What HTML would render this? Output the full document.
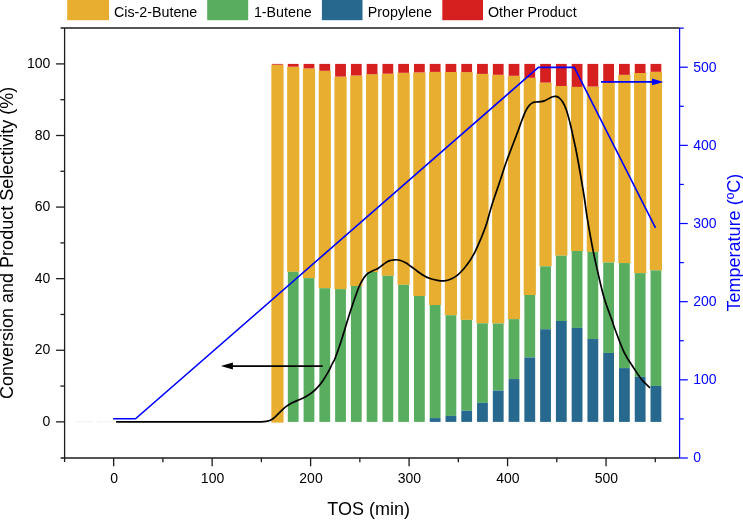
<!DOCTYPE html>
<html><head><meta charset="utf-8"><title>Chart</title>
<style>html,body{margin:0;padding:0;background:#fff}svg{display:block}text{font-family:"Liberation Sans",Arial,sans-serif}</style></head>
<body>
<svg width="743" height="520" viewBox="0 0 743 520">
<rect width="743" height="520" fill="#fff"/>
<rect x="67.2" y="0" width="41.8" height="20.2" fill="#E8AE30"/>
<text x="114.0" y="16.7" font-size="14.25" fill="#000">Cis-2-Butene</text>
<rect x="207.2" y="0" width="41.0" height="20.2" fill="#59AD5F"/>
<text x="253.9" y="16.7" font-size="14.25" fill="#000">1-Butene</text>
<rect x="321.9" y="0" width="40.6" height="20.2" fill="#26688E"/>
<text x="367.8" y="16.7" font-size="14.25" fill="#000">Propylene</text>
<rect x="442.3" y="0" width="40.7" height="20.2" fill="#D61F1F"/>
<text x="488.0" y="16.7" font-size="14.25" fill="#000">Other Product</text>
<rect x="271.35" y="64.70" width="12.2" height="357.90" fill="#E8AE30"/>
<rect x="272.05" y="63.9" width="10.8" height="0.80" fill="#D61F1F"/>
<rect x="287.12" y="66.70" width="12.2" height="205.10" fill="#E8AE30"/>
<rect x="287.82" y="63.9" width="10.8" height="2.80" fill="#D61F1F"/>
<rect x="287.82" y="271.80" width="10.8" height="150.10" fill="#59AD5F"/>
<rect x="302.89" y="68.40" width="12.2" height="209.70" fill="#E8AE30"/>
<rect x="303.59" y="63.9" width="10.8" height="4.50" fill="#D61F1F"/>
<rect x="303.59" y="278.10" width="10.8" height="143.80" fill="#59AD5F"/>
<rect x="318.66" y="70.80" width="12.2" height="217.40" fill="#E8AE30"/>
<rect x="319.36" y="63.9" width="10.8" height="6.90" fill="#D61F1F"/>
<rect x="319.36" y="288.20" width="10.8" height="133.70" fill="#59AD5F"/>
<rect x="334.43" y="76.60" width="12.2" height="212.50" fill="#E8AE30"/>
<rect x="335.13" y="63.9" width="10.8" height="12.70" fill="#D61F1F"/>
<rect x="335.13" y="289.10" width="10.8" height="132.80" fill="#59AD5F"/>
<rect x="350.20" y="75.50" width="12.2" height="210.50" fill="#E8AE30"/>
<rect x="350.90" y="63.9" width="10.8" height="11.60" fill="#D61F1F"/>
<rect x="350.90" y="286.00" width="10.8" height="135.90" fill="#59AD5F"/>
<rect x="365.97" y="74.20" width="12.2" height="197.80" fill="#E8AE30"/>
<rect x="366.67" y="63.9" width="10.8" height="10.30" fill="#D61F1F"/>
<rect x="366.67" y="272.00" width="10.8" height="149.90" fill="#59AD5F"/>
<rect x="381.74" y="73.70" width="12.2" height="202.10" fill="#E8AE30"/>
<rect x="382.44" y="63.9" width="10.8" height="9.80" fill="#D61F1F"/>
<rect x="382.44" y="275.80" width="10.8" height="146.10" fill="#59AD5F"/>
<rect x="397.51" y="72.80" width="12.2" height="212.00" fill="#E8AE30"/>
<rect x="398.21" y="63.9" width="10.8" height="8.90" fill="#D61F1F"/>
<rect x="398.21" y="284.80" width="10.8" height="137.10" fill="#59AD5F"/>
<rect x="413.28" y="72.40" width="12.2" height="223.60" fill="#E8AE30"/>
<rect x="413.98" y="63.9" width="10.8" height="8.50" fill="#D61F1F"/>
<rect x="413.98" y="296.00" width="10.8" height="125.90" fill="#59AD5F"/>
<rect x="429.05" y="71.90" width="12.2" height="233.10" fill="#E8AE30"/>
<rect x="429.75" y="63.9" width="10.8" height="8.00" fill="#D61F1F"/>
<rect x="429.75" y="305.00" width="10.8" height="113.10" fill="#59AD5F"/>
<rect x="429.75" y="418.10" width="10.8" height="3.80" fill="#26688E"/>
<rect x="444.82" y="72.00" width="12.2" height="243.20" fill="#E8AE30"/>
<rect x="445.52" y="63.9" width="10.8" height="8.10" fill="#D61F1F"/>
<rect x="445.52" y="315.20" width="10.8" height="100.70" fill="#59AD5F"/>
<rect x="445.52" y="415.90" width="10.8" height="6.00" fill="#26688E"/>
<rect x="460.59" y="72.10" width="12.2" height="247.80" fill="#E8AE30"/>
<rect x="461.29" y="63.9" width="10.8" height="8.20" fill="#D61F1F"/>
<rect x="461.29" y="319.90" width="10.8" height="90.80" fill="#59AD5F"/>
<rect x="461.29" y="410.70" width="10.8" height="11.20" fill="#26688E"/>
<rect x="476.36" y="73.90" width="12.2" height="249.40" fill="#E8AE30"/>
<rect x="477.06" y="63.9" width="10.8" height="10.00" fill="#D61F1F"/>
<rect x="477.06" y="323.30" width="10.8" height="79.50" fill="#59AD5F"/>
<rect x="477.06" y="402.80" width="10.8" height="19.10" fill="#26688E"/>
<rect x="492.13" y="74.80" width="12.2" height="248.70" fill="#E8AE30"/>
<rect x="492.83" y="63.9" width="10.8" height="10.90" fill="#D61F1F"/>
<rect x="492.83" y="323.50" width="10.8" height="67.10" fill="#59AD5F"/>
<rect x="492.83" y="390.60" width="10.8" height="31.30" fill="#26688E"/>
<rect x="507.90" y="75.80" width="12.2" height="243.30" fill="#E8AE30"/>
<rect x="508.60" y="63.9" width="10.8" height="11.90" fill="#D61F1F"/>
<rect x="508.60" y="319.10" width="10.8" height="59.95" fill="#59AD5F"/>
<rect x="508.60" y="379.05" width="10.8" height="42.85" fill="#26688E"/>
<rect x="523.67" y="77.80" width="12.2" height="217.20" fill="#E8AE30"/>
<rect x="524.37" y="63.9" width="10.8" height="13.90" fill="#D61F1F"/>
<rect x="524.37" y="295.00" width="10.8" height="62.50" fill="#59AD5F"/>
<rect x="524.37" y="357.50" width="10.8" height="64.40" fill="#26688E"/>
<rect x="539.44" y="82.60" width="12.2" height="183.75" fill="#E8AE30"/>
<rect x="540.14" y="63.9" width="10.8" height="18.70" fill="#D61F1F"/>
<rect x="540.14" y="266.35" width="10.8" height="62.90" fill="#59AD5F"/>
<rect x="540.14" y="329.25" width="10.8" height="92.65" fill="#26688E"/>
<rect x="555.21" y="86.00" width="12.2" height="169.70" fill="#E8AE30"/>
<rect x="555.91" y="63.9" width="10.8" height="22.10" fill="#D61F1F"/>
<rect x="555.91" y="255.70" width="10.8" height="65.30" fill="#59AD5F"/>
<rect x="555.91" y="321.00" width="10.8" height="100.90" fill="#26688E"/>
<rect x="570.98" y="86.90" width="12.2" height="164.10" fill="#E8AE30"/>
<rect x="571.68" y="63.9" width="10.8" height="23.00" fill="#D61F1F"/>
<rect x="571.68" y="251.00" width="10.8" height="76.90" fill="#59AD5F"/>
<rect x="571.68" y="327.90" width="10.8" height="94.00" fill="#26688E"/>
<rect x="586.75" y="86.55" width="12.2" height="165.35" fill="#E8AE30"/>
<rect x="587.45" y="63.9" width="10.8" height="22.65" fill="#D61F1F"/>
<rect x="587.45" y="251.90" width="10.8" height="87.15" fill="#59AD5F"/>
<rect x="587.45" y="339.05" width="10.8" height="82.85" fill="#26688E"/>
<rect x="602.52" y="82.80" width="12.2" height="179.70" fill="#E8AE30"/>
<rect x="603.22" y="63.9" width="10.8" height="18.90" fill="#D61F1F"/>
<rect x="603.22" y="262.50" width="10.8" height="90.40" fill="#59AD5F"/>
<rect x="603.22" y="352.90" width="10.8" height="69.00" fill="#26688E"/>
<rect x="618.29" y="74.85" width="12.2" height="188.20" fill="#E8AE30"/>
<rect x="618.99" y="63.9" width="10.8" height="10.95" fill="#D61F1F"/>
<rect x="618.99" y="263.05" width="10.8" height="105.05" fill="#59AD5F"/>
<rect x="618.99" y="368.10" width="10.8" height="53.80" fill="#26688E"/>
<rect x="634.06" y="73.00" width="12.2" height="200.10" fill="#E8AE30"/>
<rect x="634.76" y="63.9" width="10.8" height="9.10" fill="#D61F1F"/>
<rect x="634.76" y="273.10" width="10.8" height="103.70" fill="#59AD5F"/>
<rect x="634.76" y="376.80" width="10.8" height="45.10" fill="#26688E"/>
<rect x="649.83" y="71.80" width="12.2" height="198.60" fill="#E8AE30"/>
<rect x="650.53" y="63.9" width="10.8" height="7.90" fill="#D61F1F"/>
<rect x="650.53" y="270.40" width="10.8" height="115.50" fill="#59AD5F"/>
<rect x="650.53" y="385.90" width="10.8" height="36.00" fill="#26688E"/>
<g stroke="#1c1c1c" stroke-width="1.3" fill="none">
<path d="M60.599999999999994 28.0H679.6"/>
<path d="M76.3 421.9H93.8M96.5 421.9H103.3M104.6 421.9H112.7" stroke="#efefef" stroke-width="1"/>
<path d="M64.6 28.0V462.0"/>
<path d="M60.599999999999994 458.0H679.6"/>
<path d="M56.099999999999994 421.85H64.6"/>
<path d="M56.099999999999994 350.26H64.6"/>
<path d="M56.099999999999994 278.67H64.6"/>
<path d="M56.099999999999994 207.08H64.6"/>
<path d="M56.099999999999994 135.49H64.6"/>
<path d="M56.099999999999994 63.90H64.6"/>
<path d="M60.39999999999999 386.06H64.6"/>
<path d="M60.39999999999999 314.47H64.6"/>
<path d="M60.39999999999999 242.88H64.6"/>
<path d="M60.39999999999999 171.29H64.6"/>
<path d="M60.39999999999999 99.70H64.6"/>
<path d="M113.65 458.0V466.3"/>
<path d="M212.13 458.0V466.3"/>
<path d="M310.61 458.0V466.3"/>
<path d="M409.09 458.0V466.3"/>
<path d="M507.57 458.0V466.3"/>
<path d="M606.05 458.0V466.3"/>
<path d="M162.89 458.0V462.2"/>
<path d="M261.37 458.0V462.2"/>
<path d="M359.85 458.0V462.2"/>
<path d="M458.33 458.0V462.2"/>
<path d="M556.81 458.0V462.2"/>
<path d="M655.29 458.0V462.2"/>
</g>
<g stroke="#0000FF" stroke-width="1.2" fill="none">
<path d="M679.6 28.0V458.0"/>
<path d="M679.6 458.00H687.8000000000001"/>
<path d="M679.6 379.84H687.8000000000001"/>
<path d="M679.6 301.68H687.8000000000001"/>
<path d="M679.6 223.52H687.8000000000001"/>
<path d="M679.6 145.36H687.8000000000001"/>
<path d="M679.6 67.20H687.8000000000001"/>
<path d="M679.6 418.92H683.8000000000001"/>
<path d="M679.6 340.76H683.8000000000001"/>
<path d="M679.6 262.60H683.8000000000001"/>
<path d="M679.6 184.44H683.8000000000001"/>
<path d="M679.6 106.28H683.8000000000001"/>
<path d="M679.6 28.12H683.8000000000001"/>
</g>
<text x="50.3" y="426.05" font-size="14" text-anchor="end" fill="#000">0</text>
<text x="50.3" y="354.46" font-size="14" text-anchor="end" fill="#000">20</text>
<text x="50.3" y="282.87" font-size="14" text-anchor="end" fill="#000">40</text>
<text x="50.3" y="211.28" font-size="14" text-anchor="end" fill="#000">60</text>
<text x="50.3" y="139.69" font-size="14" text-anchor="end" fill="#000">80</text>
<text x="50.3" y="68.10" font-size="14" text-anchor="end" fill="#000">100</text>
<text x="114.05" y="482.5" font-size="14" text-anchor="middle" fill="#000">0</text>
<text x="212.53" y="482.5" font-size="14" text-anchor="middle" fill="#000">100</text>
<text x="311.01" y="482.5" font-size="14" text-anchor="middle" fill="#000">200</text>
<text x="409.49" y="482.5" font-size="14" text-anchor="middle" fill="#000">300</text>
<text x="507.97" y="482.5" font-size="14" text-anchor="middle" fill="#000">400</text>
<text x="606.45" y="482.5" font-size="14" text-anchor="middle" fill="#000">500</text>
<text x="693.3" y="462.30" font-size="14" fill="#0000FF">0</text>
<text x="693.3" y="384.14" font-size="14" fill="#0000FF">100</text>
<text x="693.3" y="305.98" font-size="14" fill="#0000FF">200</text>
<text x="693.3" y="227.82" font-size="14" fill="#0000FF">300</text>
<text x="693.3" y="149.66" font-size="14" fill="#0000FF">400</text>
<text x="693.3" y="71.50" font-size="14" fill="#0000FF">500</text>
<text x="368.6" y="514.8" font-size="18" text-anchor="middle" fill="#000">TOS (min)</text>
<text transform="translate(13.3 242.9) rotate(-90)" font-size="18" text-anchor="middle" fill="#000">Conversion and Product Selectivity (%)</text>
<text transform="translate(740.1 242.6) rotate(-90)" font-size="18" text-anchor="middle" fill="#0000FF">Temperature (ºC)</text>
<path d="M113.1 418.8H135.5L538.4 67.4H574.3L655.5 227.9" stroke="#0000FF" stroke-width="1.6" fill="none" stroke-linejoin="miter"/>
<path d="M116.1 421.9C138.4 421.9 225.9 421.9 250 421.9C274.1 421.9 257.9 422.0 260.8 421.9C263.7 421.8 265.6 421.6 267.5 421.2C269.4 420.8 270.6 420.2 272.2 419.2C273.8 418.2 275.2 416.8 276.9 415.2C278.6 413.6 280.7 411.3 282.3 409.8C283.9 408.3 284.7 407.5 286.3 406.4C287.9 405.3 289.7 404.2 291.7 403.1C293.7 402.0 296.2 401.0 298.5 400.0C300.8 399.0 303.0 398.2 305.2 397.0C307.4 395.8 309.9 394.3 311.9 392.7C313.9 391.1 315.5 389.6 317.3 387.6C319.1 385.6 320.9 383.5 322.7 380.9C324.5 378.3 326.5 374.9 328.1 372.1C329.7 369.3 331.0 366.3 332.1 364.0C333.2 361.7 333.6 362.1 335 358.5C336.4 354.9 338.9 348.1 340.8 342.3C342.7 336.5 344.8 329.4 346.5 323.8C348.2 318.2 349.8 313.2 351.3 308.6C352.8 304.1 354.0 300.3 355.4 296.5C356.8 292.7 358.0 288.8 359.4 285.8C360.8 282.8 362.1 280.4 363.5 278.4C364.9 276.4 365.9 274.9 367.5 273.6C369.1 272.3 371.1 271.6 372.9 270.7C374.7 269.8 376.5 269.4 378.3 268.3C380.1 267.2 381.8 265.4 383.6 264.2C385.4 263.0 387.2 261.6 389 260.9C390.8 260.2 392.6 259.9 394.4 259.8C396.2 259.7 398.0 259.7 399.8 260.2C401.6 260.7 403.4 261.6 405.2 262.6C407.0 263.6 408.6 264.8 410.6 266.2C412.6 267.6 415.1 269.6 417.3 271.2C419.5 272.8 421.8 274.4 424 275.7C426.2 277.0 428.6 278.0 430.8 278.8C433.1 279.6 435.3 280.0 437.5 280.4C439.7 280.8 441.9 281.1 444.2 280.9C446.5 280.6 448.9 279.9 451.1 278.9C453.3 277.9 455.4 276.8 457.5 275.1C459.6 273.4 461.7 271.3 463.8 268.8C465.9 266.3 468.2 263.3 470.2 260.3C472.1 257.3 473.8 254.3 475.5 250.8C477.2 247.3 478.9 243.4 480.7 239.2C482.4 235.0 484.4 230.1 486 225.5C487.6 220.9 488.8 215.8 490 211.5C491.2 207.2 491.8 205.1 493.5 200C495.2 194.9 497.9 187.3 500 181C502.1 174.7 504.1 168.1 506.2 162.3C508.2 156.5 510.3 151.4 512.3 146C514.3 140.6 516.9 134.1 518.4 130C519.9 125.9 520.3 124.4 521.5 121.3C522.7 118.2 524.4 113.8 525.6 111.2C526.8 108.6 527.8 107.3 528.9 105.9C530.0 104.5 531.2 103.6 532.3 102.9C533.4 102.2 534.4 102.2 535.7 102.0C537.1 101.8 539.0 101.9 540.4 101.7C541.8 101.5 543.0 101.4 544.4 100.9C545.8 100.4 547.1 99.4 548.5 98.7C549.9 98.0 551.3 97.2 552.5 96.8C553.7 96.4 554.8 96.2 555.9 96.4C557.0 96.6 558.1 96.9 559.2 97.8C560.3 98.7 561.4 99.8 562.6 101.8C563.8 103.8 565.1 106.3 566.4 110.0C567.7 113.7 569.1 119.4 570.2 123.7C571.3 128.0 572.0 131.6 572.9 135.8C573.8 140.0 575.0 145.0 575.8 149C576.6 153.0 576.8 154.0 577.9 160C579.0 166.0 581.2 178.7 582.25 185C583.3 191.3 583.5 192.2 584.4 198C585.3 203.8 586.0 210.9 587.5 219.7C589.0 228.5 591.2 241.1 593.1 250.6C595.0 260.1 596.9 268.3 598.8 276.5C600.7 284.7 602.4 292.4 604.6 299.6C606.8 306.8 610.0 314.7 611.8 319.8C613.6 324.9 613.2 324.5 615.3 330C617.4 335.5 621.3 346.5 624.4 352.9C627.5 359.2 630.9 363.6 633.8 368.1C636.7 372.6 639.2 376.5 641.9 379.8C644.6 383.1 648.6 386.5 650 387.9" stroke="#000" stroke-width="1.7" fill="none"/>
<path d="M322.7 366.1H231" stroke="#000" stroke-width="1.6" fill="none"/>
<path d="M220.9 366.1L232.9 362.6V369.6Z" fill="#000"/>
<path d="M601 81.9H653" stroke="#0000FF" stroke-width="1.6" fill="none"/>
<path d="M663.4 81.9L652 78.5V85.3Z" fill="#0000FF"/>
</svg>
</body></html>
